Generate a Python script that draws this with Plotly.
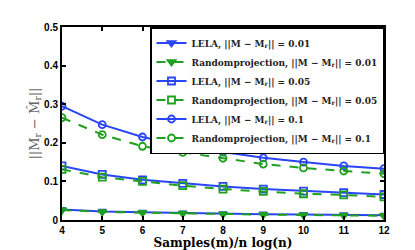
import plotly.graph_objects as go

x = [4, 5, 6, 7, 8, 9, 10, 11, 12]
lela_001 = [0.027, 0.022, 0.020, 0.018, 0.016, 0.015, 0.014, 0.013, 0.012]
rp_001 = [0.026, 0.021, 0.019, 0.017, 0.015, 0.014, 0.013, 0.012, 0.011]
lela_005 = [0.140, 0.118, 0.104, 0.095, 0.087, 0.080, 0.075, 0.071, 0.066]
rp_005 = [0.131, 0.111, 0.100, 0.089, 0.080, 0.074, 0.068, 0.065, 0.060]
lela_01 = [0.295, 0.247, 0.215, 0.193, 0.176, 0.161, 0.150, 0.140, 0.133]
rp_01 = [0.265, 0.221, 0.191, 0.175, 0.160, 0.145, 0.135, 0.127, 0.120]

names = [
    "<b>LELA, ||M − M<sub>r</sub>|| = 0.01</b>",
    "<b>Randomprojection, ||M − M<sub>r</sub>|| = 0.01</b>",
    "<b>LELA, ||M − M<sub>r</sub>|| = 0.05</b>",
    "<b>Randomprojection, ||M − M<sub>r</sub>|| = 0.05</b>",
    "<b>LELA, ||M − M<sub>r</sub>|| = 0.1</b>",
    "<b>Randomprojection, ||M − M<sub>r</sub>|| = 0.1</b>",
]
series = [lela_001, rp_001, lela_005, rp_005, lela_01, rp_01]
blue = "#2a45f5"
green = "#1fa01f"
colors = [blue, green, blue, green, blue, green]
dashes = ["solid", "dash", "solid", "dash", "solid", "dash"]
symbols = ["triangle-down", "triangle-down", "square-open", "square-open", "circle-open", "circle-open"]

fig = go.Figure()
for ys, nm, c, d, s in zip(series, names, colors, dashes, symbols):
    fig.add_trace(go.Scatter(
        x=x, y=ys, name=nm, mode="lines+markers",
        line=dict(color=c, width=2, dash=d),
        marker=dict(symbol=s, size=7, color=c, line=dict(color=c, width=1.8)),
    ))

fig.update_layout(
    width=415, height=250,
    margin=dict(l=54, r=39, t=19, b=29),
    plot_bgcolor="white", paper_bgcolor="white",
    showlegend=True,
    legend=dict(
        x=1, y=1, xanchor="right", yanchor="top",
        bgcolor="white", bordercolor="black", borderwidth=1.5,
        font=dict(family="DejaVu Serif", size=9, color="#222"),
        tracegroupgap=0, itemwidth=30,
    ),
    font=dict(family="Liberation Sans", color="black"),
)
fig.update_xaxes(
    range=[4, 12], tickvals=x, ticktext=[f"<b>{v}</b>" for v in x],
    ticks="inside", ticklen=4, tickwidth=2, tickcolor="black",
    showline=True, linecolor="black", linewidth=2, mirror="ticks",
    showgrid=False, zeroline=False,
    tickfont=dict(size=10, family="Liberation Sans"),
    title=dict(text="<b>Samples(m)/n log(n)</b>", font=dict(family="DejaVu Serif", size=12), standoff=2),
)
fig.update_yaxes(
    range=[0, 0.5], tickvals=[0, 0.1, 0.2, 0.3, 0.4, 0.5],
    ticktext=["<b>0</b>", "<b>0.1</b>", "<b>0.2</b>", "<b>0.3</b>", "<b>0.4</b>", "<b>0.5</b>"],
    ticks="inside", ticklen=4, tickwidth=2, tickcolor="black",
    showline=True, linecolor="black", linewidth=2, mirror="ticks",
    showgrid=False, zeroline=False,
    tickfont=dict(size=10, family="Liberation Sans"),
    title=dict(text="||M<sub>r</sub> − M̂<sub>r</sub>||", font=dict(family="DejaVu Serif", size=13, color="#666"), standoff=2),
)

fig.write_html("out.html")
